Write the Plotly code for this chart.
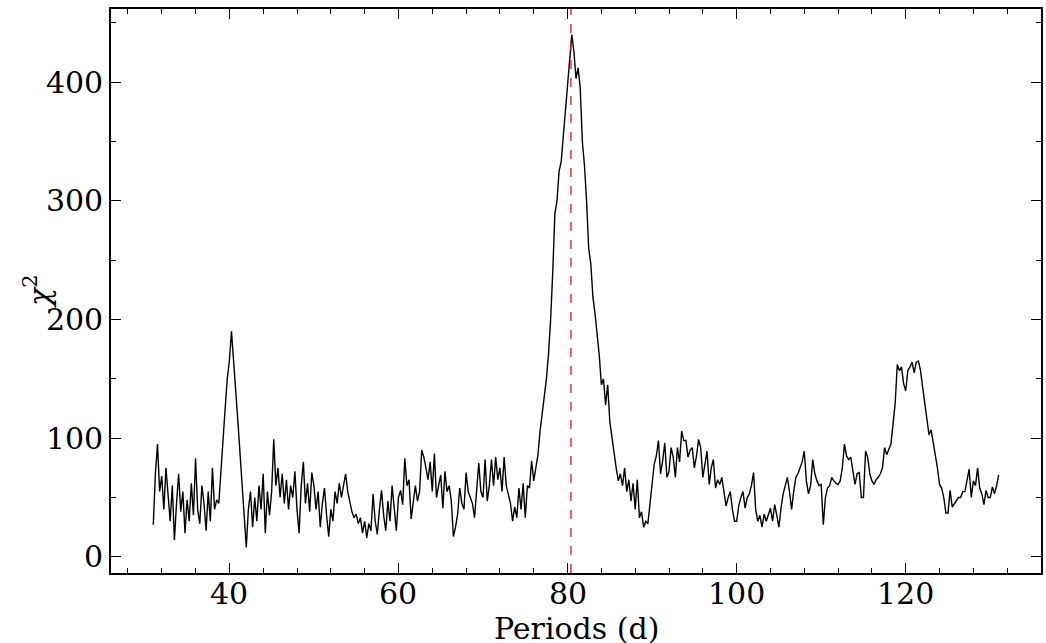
import numpy as np
import plotly.graph_objects as go

# chi-square values, 4 samples per day of period, from 31 d to 131 d
chi2 = [
    27, 70, 95, 55,      # 31
    68, 40, 75, 50,      # 32
    30, 60, 14, 45,      # 33
    70, 38, 55, 20,      # 34
    48, 30, 62, 35,      # 35
    83, 40, 28, 60,      # 36
    45, 22, 55, 30,      # 37
    75, 40, 48, 45,      # 38
    75, 100, 125, 150,   # 39
    165, 190, 160, 140,  # 40
    115, 85, 55, 35,     # 41
    8, 40, 55, 25,       # 42
    50, 30, 60, 40,      # 43
    70, 20, 55, 35,      # 44
    55, 99, 60, 75,      # 45
    50, 70, 45, 65,      # 46
    40, 60, 50, 72,      # 47
    40, 20, 60, 80,      # 48
    45, 62, 38, 71,      # 49
    60, 40, 55, 25,      # 50
    45, 58, 35, 17,      # 51
    40, 30, 55, 45,      # 52
    62, 50, 60, 70,      # 53
    55, 45, 38, 33,      # 54
    36, 28, 33, 20,      # 55
    30, 16, 28, 22,      # 56
    53, 30, 19, 40,      # 57
    56, 35, 22, 47,      # 58
    30, 60, 40, 22,      # 59
    50, 56, 44, 83,      # 60
    60, 65, 32, 45,      # 61
    60, 47, 55, 90,      # 62
    84, 75, 65, 80,      # 63
    55, 87, 50, 60,      # 64
    69, 41, 72, 55,      # 65
    60, 47, 17, 25,      # 66
    36, 58, 45, 40,      # 67
    71, 55, 50, 45,      # 68
    33, 60, 79, 55,      # 69
    50, 82, 47, 60,      # 70
    82, 60, 84, 65,      # 71
    75, 55, 84, 60,      # 72
    53, 45, 30, 42,      # 73
    33, 58, 40, 62,      # 74
    33, 60, 58, 81,      # 75
    64, 75, 86, 106,     # 76
    120, 131, 150, 171,  # 77
    200, 240, 289, 300,  # 78
    325, 333, 355, 376,  # 79
    401, 423, 440, 426,  # 80
    403, 412, 395, 350,  # 81
    330, 300, 260, 247,  # 82
    219, 205, 188, 170,  # 83
    145, 150, 128, 145,  # 84
    114, 100, 85, 75,    # 85
    64, 70, 60, 75,      # 86
    55, 65, 47, 62,      # 87
    40, 65, 33, 38,      # 88
    25, 30, 28, 45,      # 89
    60, 78, 85, 98,      # 90
    70, 81, 96, 67,      # 91
    72, 92, 84, 67,      # 92
    92, 80, 106, 98,     # 93
    98, 84, 90, 92,      # 94
    75, 85, 99, 92,      # 95
    67, 80, 89, 61,      # 96
    75, 82, 58, 65,      # 97
    61, 67, 55, 43,      # 98
    50, 55, 40, 30,      # 99
    30, 43, 50, 55,      # 100
    41, 50, 53, 60,      # 101
    71, 40, 30, 35,      # 102
    25, 36, 30, 35,      # 103
    41, 30, 44, 35,      # 104
    25, 41, 53, 60,      # 105
    67, 55, 40, 55,      # 106
    67, 70, 75, 80,      # 107
    89, 64, 53, 60,      # 108
    82, 70, 64, 60,      # 109
    61, 27, 50, 58,      # 110
    60, 67, 64, 62,      # 111
    61, 64, 75, 95,      # 112
    85, 82, 84, 70,      # 113
    61, 70, 71, 50,      # 114
    50, 89, 84, 70,      # 115
    64, 61, 65, 67,      # 116
    70, 75, 92, 86,      # 117
    90, 95, 112, 129,    # 118
    162, 157, 160, 146,  # 119
    140, 157, 160, 164,  # 120
    155, 164, 165, 157,  # 121
    143, 129, 115, 103,  # 122
    107, 97, 86, 75,     # 123
    61, 58, 50, 37,      # 124
    37, 56, 42, 45,      # 125
    47, 50, 50, 55,      # 126
    55, 64, 74, 50,      # 127
    64, 60, 75, 58,      # 128
    53, 44, 56, 50,      # 129
    50, 59, 53, 60,      # 130
    69,                  # 131
]
period_start = 31.0
period_end = 131.0
periods = np.linspace(period_start, period_end, len(chi2))

best_period = 80.4

x_ticks = [40, 60, 80, 100, 120]
y_ticks = [0, 100, 200, 300, 400]

FONT = "DejaVu Serif"
FS = 30

fig = go.Figure()
fig.add_trace(go.Scatter(
    x=periods, y=chi2, mode="lines",
    line=dict(color="black", width=1.4),
    showlegend=False, hoverinfo="skip",
))
fig.add_vline(x=best_period, line=dict(color="#e8141c", width=1.3, dash="dash"))

axis_common = dict(
    showgrid=False, zeroline=False, automargin=False,
    showline=True, linecolor="black", linewidth=1.6, mirror="allticks",
    ticks="inside", ticklen=10, tickwidth=1.3, tickcolor="black",
    tickfont=dict(family=FONT, size=FS, color="black"),
)
xmin, xmax = min(periods), max(periods)
xpad = 0.05 * (xmax - xmin)
ymin, ymax = min(chi2), max(chi2)
ypad = 0.05 * (ymax - ymin)

fig.update_xaxes(
    **axis_common,
    range=[xmin - xpad, xmax + xpad],
    tickvals=x_ticks, showticklabels=False,
    minor=dict(ticks="inside", ticklen=5, tickwidth=1.1, dtick=4, tick0=0, tickcolor="black"),
)
fig.update_yaxes(
    **axis_common,
    range=[ymin - ypad, ymax + ypad],
    tickvals=y_ticks, ticktext=[str(v) for v in y_ticks],
    minor=dict(ticks="inside", ticklen=5, tickwidth=1.1, dtick=50, tick0=0, tickcolor="black"),
)
# x tick labels placed at the axis tick values (closer to the axis than Plotly's default)
for v in x_ticks:
    fig.add_annotation(
        text=str(v), xref="x", yref="paper", x=v, y=0.0, yshift=-20,
        xanchor="center", yanchor="middle", showarrow=False,
        font=dict(family=FONT, size=FS, color="black"),
    )
fig.add_annotation(
    text="Periods (d)", xref="paper", yref="paper",
    x=0.5, y=0.0, yshift=-55, xanchor="center", yanchor="middle",
    showarrow=False, font=dict(family=FONT, size=FS, color="black"),
)
fig.add_annotation(
    text="<i>χ</i><sup>2</sup>", xref="paper", yref="paper",
    x=0.0, y=0.5, xshift=-74, xanchor="center", yanchor="middle", textangle=-90,
    showarrow=False, font=dict(family=FONT, size=FS, color="black"),
)
fig.update_layout(
    width=1046, height=643,
    margin=dict(l=111, r=5, t=9, b=70),
    paper_bgcolor="white", plot_bgcolor="white",
)
fig.write_html("out.html")
